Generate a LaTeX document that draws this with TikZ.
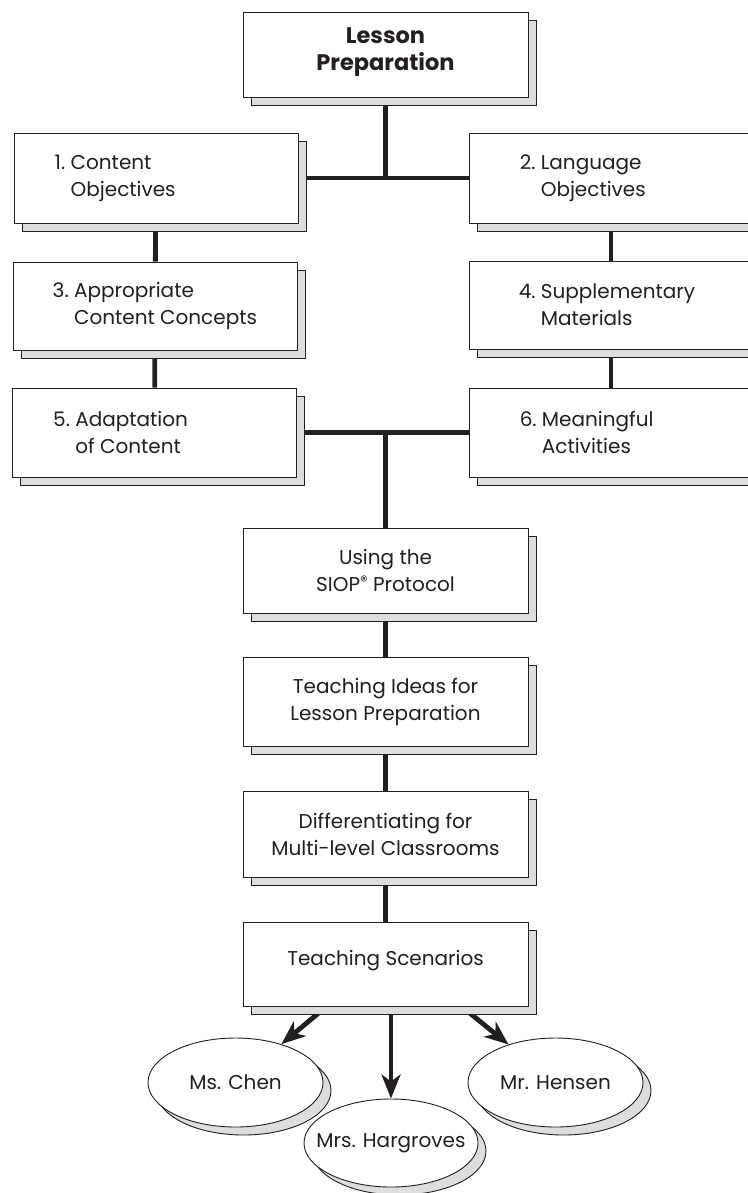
\documentclass[tikz,border=0pt]{standalone}
\usepackage{fontspec}
\setmainfont{Poppins}
\usetikzlibrary{shadows,arrows.meta,backgrounds,shapes.geometric,calc}
\definecolor{ink}{HTML}{231F20}
\definecolor{shade}{HTML}{DCDDDF}
\newcommand{\regmark}{\smash{\raisebox{5.5bp}{\fontsize{15bp}{15bp}\selectfont ®}}}
\begin{document}
\begin{tikzpicture}[x=1bp,y=-1bp,
  shadowed/.style={general shadow={shadow xshift=8bp, shadow yshift=-8bp, fill=shade, draw=ink, line width=0.9bp}},
  box/.style={draw=ink, line width=0.9bp, fill=white, minimum width=284bp, inner sep=0pt, shadowed},
  oval/.style={ellipse, draw=ink, line width=0.9bp, fill=white, minimum width=175bp, minimum height=89bp, inner sep=0pt, shadowed},
  txt/.style={font=\fontsize{20bp}{27bp}\selectfont, text=ink, inner sep=0pt},
  ltxt/.style={txt, align=left, anchor=west},
  ctxt/.style={txt, align=center},
  conn/.style={draw=ink, line width=4.8bp},
  arr/.style={conn, -{Stealth[length=24bp,width=19bp,inset=7bp]}}
]
\useasboundingbox (0,0) rectangle (748,1193);
% boxes
\node[box, minimum width=285bp, minimum height=85bp] (top) at (385.5,54.5) {};
\node[ctxt, font=\fontsize{22.5bp}{27bp}\selectfont\bfseries] (ttop) at ($(top.center)+(0,-2)$) {Lesson\\Preparation};

\node[box, minimum height=90bp] (b1) at (156,178) {};
\node[ltxt] (t1) at ($(b1.west)+(41,0)$) {1.\ Content\\\hphantom{1.\ }Objectives};
\node[box, minimum height=90bp] (b2) at (611,178) {};
\node[ltxt] (t2) at ($(b2.west)+(51,0)$) {2.\ Language\\\hphantom{2.\ }Objectives};

\node[box, minimum height=88bp] (b3) at (155,306) {};
\node[ltxt] (t3) at ($(b3.west)+(40,0)$) {3.\ Appropriate\\\hphantom{3.\ }Content Concepts};
\node[box, minimum height=88bp] (b4) at (611,305) {};
\node[ltxt] (t4) at ($(b4.west)+(50,0)$) {4.\ Supplementary\\\hphantom{4.\ }Materials};

\node[box, minimum height=89bp] (b5) at (154.5,432.5) {};
\node[ltxt] (t5) at ($(b5.west)+(41,0)$) {5.\ Adaptation\\\hphantom{5.\ }of Content};
\node[box, minimum height=89bp] (b6) at (611,432.5) {};
\node[ltxt] (t6) at ($(b6.west)+(51,0)$) {6.\ Meaningful\\\hphantom{6.\ }Activities};

\node[box, minimum width=285bp, minimum height=85bp] (siop) at (385.5,570.5) {};
\node[ctxt] (tsiop) at (siop.center) {Using the\\SIOP\regmark{} Protocol};
\node[box, minimum width=285bp, minimum height=89bp] (ideas) at (385.5,701.5) {};
\node[ctxt] (tideas) at (ideas.center) {Teaching Ideas for\\Lesson Preparation};
\node[box, minimum width=285bp, minimum height=86bp] (diff) at (385.5,834) {};
\node[ctxt] (tdiff) at (diff.center) {Differentiating for\\Multi-level Classrooms};
\node[box, minimum width=285bp, minimum height=84bp] (scen) at (385.5,964) {};
\node[ctxt] (tscen) at ($(scen.center)+(0,-3)$) {Teaching Scenarios};

% ovals
\node[oval] (chen) at (235.5,1082.5) {};
\node[ctxt] (tchen) at (chen.center) {Ms. Chen};
\node[oval, minimum width=174bp, minimum height=88bp] (harg) at (391,1143) {};
\node[ctxt] (tharg) at (harg.center) {Mrs. Hargroves};
\node[oval] (hens) at (555.5,1082.5) {};
\node[ctxt] (thens) at (hens.center) {Mr. Hensen};

\coordinate (ca) at (327,1006);
\coordinate (cm) at (391,1006);
\coordinate (cb) at (461,1006);

\begin{scope}[on background layer]
  \draw[conn] (top) -- (top |- b1);
  \draw[conn] (b1) -- (b2);
  \draw[conn] (b1) -- (b3);
  \draw[conn] (b3) -- (b5);
  \draw[conn] (b2) -- (b4);
  \draw[conn] (b4) -- (b6);
  \draw[conn] (b5) -- (b6);
  \draw[conn] (siop) -- (siop |- b5);
  \draw[conn] (siop) -- (ideas);
  \draw[conn] (ideas) -- (diff);
  \draw[conn] (diff) -- (scen);
  \draw[arr] (ca) -- (chen);
  \draw[arr] (cm) -- (harg);
  \draw[arr] (cb) -- (hens);
\end{scope}
\end{tikzpicture}
\end{document}
